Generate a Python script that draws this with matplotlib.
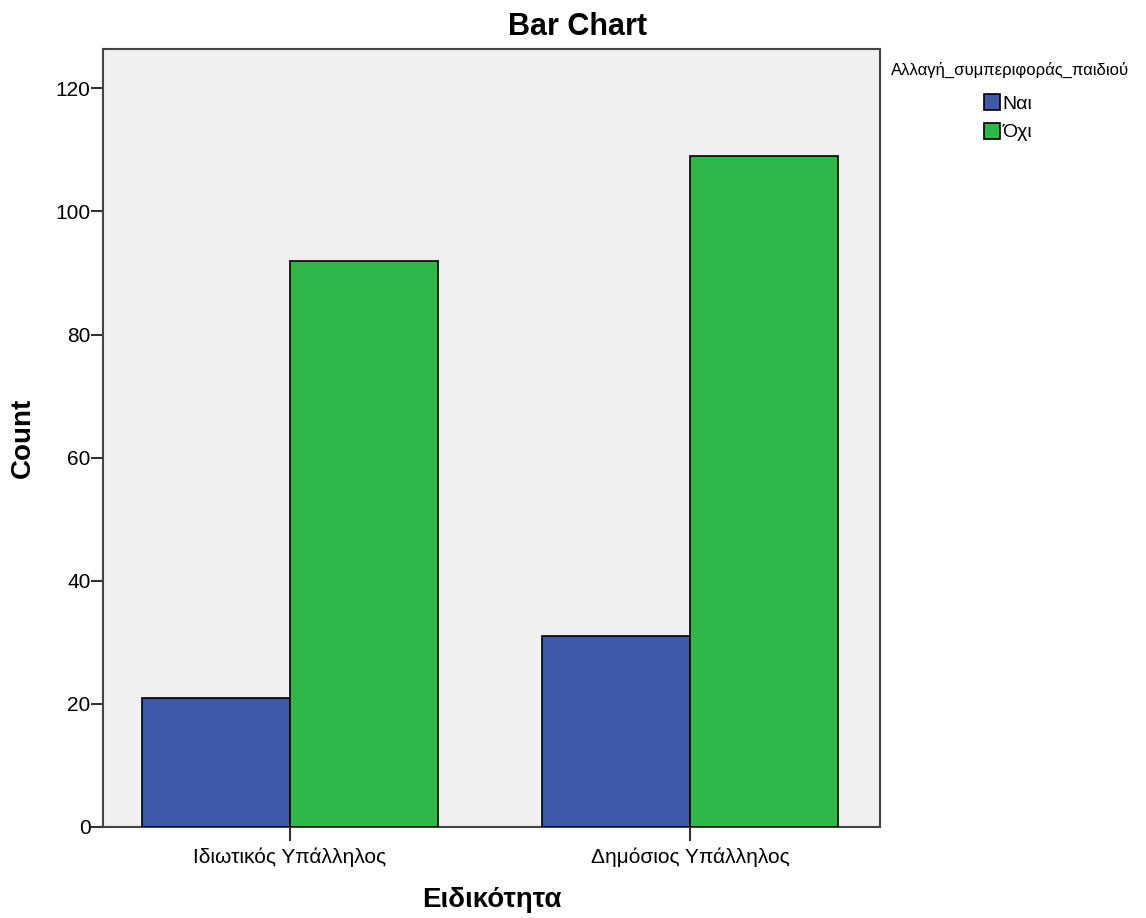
import numpy as np
import matplotlib
matplotlib.use('Agg')
import matplotlib.pyplot as plt
from matplotlib.patches import Patch

plt.rcParams['font.family'] = ['Liberation Sans', 'DejaVu Sans']

categories = ['Ιδιωτικός Υπάλληλος', 'Δημόσιος Υπάλληλος']
series_names = ['Ναι', 'Όχι']
nai_counts = [21, 31]
oxi_counts = [92, 109]
colors = ['#3E58AC', '#2EB848']
legend_title = 'Αλλαγή_συμπεριφοράς_παιδιού'

W, H = 1146, 918
fig = plt.figure(figsize=(W / 100, H / 100), dpi=100)
ax = fig.add_axes([103 / W, 1 - 827 / H, 777 / W, 778 / H])
ax.set_facecolor('#F0F0F0')

x = np.arange(len(categories))
width = 0.37
ax.bar(x - width / 2, nai_counts, width, color=colors[0], edgecolor='black',
       linewidth=1.2, zorder=3)
ax.bar(x + width / 2, oxi_counts, width, color=colors[1], edgecolor='black',
       linewidth=1.2, zorder=3)

ax.set_xlim(-0.4675, 1.475)
ax.set_ylim(0, 126.4)
ax.set_xticks(x)
ax.set_xticklabels(categories, fontsize=15)
ax.set_yticks([0, 20, 40, 60, 80, 100, 120])
ax.tick_params(axis='y', labelsize=15, length=9, width=1.5, color='#333333', pad=0)
ax.tick_params(axis='x', length=10, width=1.5, color='#333333', pad=5)

for s in ax.spines.values():
    s.set_linewidth(1.5)
    s.set_color('#444444')

# title centred on the whole figure, like the original
fig.text(578 / W, 1 - 35 / H, 'Bar Chart', fontsize=22, fontweight='bold',
         ha='center', va='baseline')
ax.set_ylabel('Count', fontsize=20, fontweight='bold', labelpad=14)
ax.set_xlabel('Ειδικότητα', fontsize=20, fontweight='bold', labelpad=14)

# legend: title as separate text, entries below
fig.text(1010 / W, 1 - 70 / H, legend_title, fontsize=12, ha='center', va='center')
handles = [Patch(facecolor=c, edgecolor='black', linewidth=1.2) for c in colors]
fig.legend(handles, series_names, loc='upper left',
           bbox_to_anchor=(984 / W, 1 - 94 / H), frameon=False, fontsize=14,
           handlelength=0.8, handleheight=0.9, handletextpad=0.15,
           labelspacing=0.5, borderpad=0, borderaxespad=0)

fig.savefig('out.png', dpi=100)
